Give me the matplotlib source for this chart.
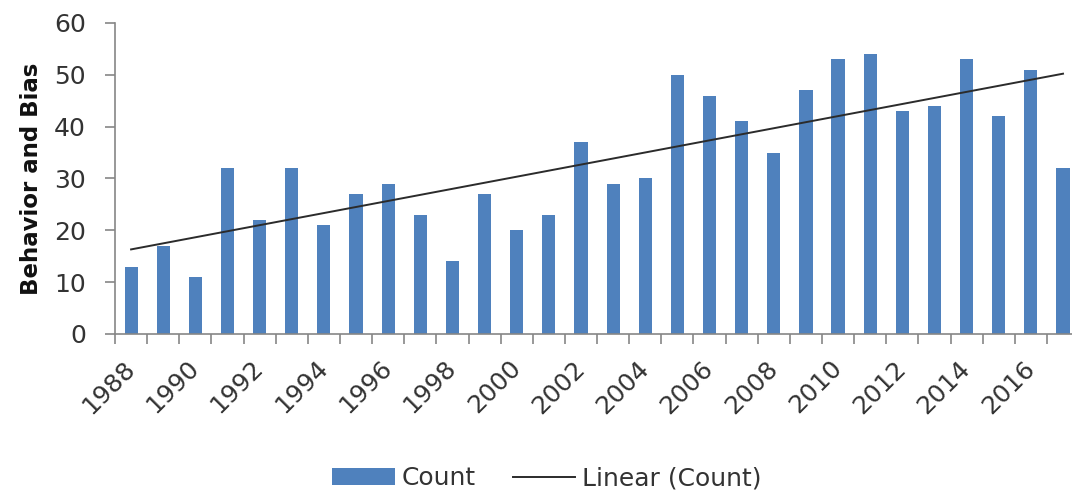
import matplotlib.pyplot as plt
import numpy as np

plt.rcParams['font.family'] = ['DejaVu Sans']

years = list(range(1988, 2018))
counts = [13, 17, 11, 32, 22, 32, 21, 27, 29, 23,
          14, 27, 20, 23, 37, 29, 30, 50, 46, 41,
          35, 47, 53, 54, 43, 44, 53, 42, 51, 32]
label_years = years[::2]

bar_color = '#4F81BD'
axis_color = '#868686'
text_color = '#333333'

fig = plt.figure(figsize=(10.72, 4.94), dpi=100)
# plot area runs a bit past the right edge, like the cropped original
ax = fig.add_axes([0.1073, 0.3239, 0.8993, 0.6296])

idx = np.arange(len(years))
bars = ax.bar(idx, counts, width=0.41, color=bar_color, label='Count', zorder=2)

# excel style linear trendline
slope, icpt = np.polyfit(idx, counts, 1)
trend, = ax.plot(idx, slope * idx + icpt, color='#2b2b2b', lw=1.4,
                 label='Linear (Count)', zorder=3)

ax.set_xlim(-0.5, len(years) - 0.5)
ax.set_ylim(0, 60)
ax.set_yticks(range(0, 61, 10))

ax.set_xticks(idx[::2])
ax.set_xticklabels(label_years, rotation=45, ha='right', va='center',
                   rotation_mode='anchor')
ax.set_xticks(np.arange(len(years) + 1) - 0.5, minor=True)
ax.tick_params(axis='x', which='major', length=0, pad=22, labelsize=18,
               labelcolor=text_color)
ax.tick_params(axis='x', which='minor', length=7, color=axis_color, width=1.2)
ax.tick_params(axis='y', length=7, color=axis_color, width=1.2, labelsize=18,
               labelcolor=text_color, pad=14)

for s in ['top', 'right']:
    ax.spines[s].set_visible(False)
for s in ['left', 'bottom']:
    ax.spines[s].set_color(axis_color)
    ax.spines[s].set_linewidth(1.2)

ax.set_ylabel('Behavior and Bias', fontsize=16.5, fontweight='bold',
              color='#111111', labelpad=8)

fig.legend([bars, trend], ['Count', 'Linear (Count)'], loc='center',
           bbox_to_anchor=(0.51, 0.032), ncol=2, frameon=False,
           fontsize=18, labelcolor=text_color, handlelength=2.5,
           handleheight=0.65, columnspacing=1.5, handletextpad=0.25)

fig.savefig('out.png', dpi=100)
